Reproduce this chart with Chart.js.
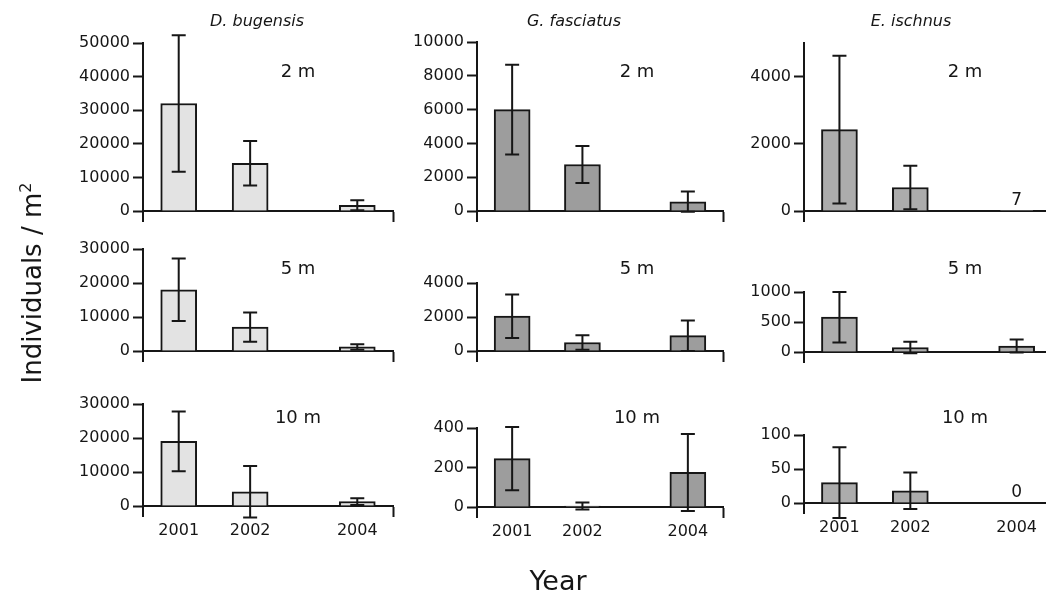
<!DOCTYPE html>
<html>
<head>
<meta charset="utf-8">
<script src="https://cdn.jsdelivr.net/npm/chart.js@4.4.1/dist/chart.umd.min.js"></script>
<style>
  html, body { margin: 0; padding: 0; background: #fff; overflow: hidden; }
  #wrap { position: relative; width: 1050px; height: 598px; }
  #wrap canvas { position: absolute; left: 0; top: 0; }
  .lbl { position: absolute; font-family: 'DejaVu Sans', sans-serif; color: #161616; text-align: center; white-space: nowrap; }
  #ytitle { left: -118px; top: 268px; width: 300px; height: 30px; line-height: 30px; font-size: 26px; transform: rotate(-90deg); }
  #ytitle sup { font-size: 16px; line-height: 0; vertical-align: 10px; }
  #xtitle { left: 458px; top: 565px; width: 200px; height: 32px; line-height: 32px; font-size: 27px; }
</style>
</head>
<body>
<div id="wrap">
  <canvas id="c0" width="1050" height="598"></canvas>
  <canvas id="c1" width="1050" height="598"></canvas>
  <canvas id="c2" width="1050" height="598"></canvas>
  <canvas id="c3" width="1050" height="598"></canvas>
  <canvas id="c4" width="1050" height="598"></canvas>
  <canvas id="c5" width="1050" height="598"></canvas>
  <canvas id="c6" width="1050" height="598"></canvas>
  <canvas id="c7" width="1050" height="598"></canvas>
  <canvas id="c8" width="1050" height="598"></canvas>
  <div class="lbl" id="ytitle">Individuals / m<sup>2</sup></div>
  <div class="lbl" id="xtitle">Year</div>
</div>
<script>
// sampling years (2003 not sampled, drawn as a half gap)
const yearLabels = ['2001', '2002', '2004'];
const yearSlots = [1, 2, 3.5];
const species = ['D. bugensis', 'G. fasciatus', 'E. ischnus'];
const depths = ['2 m', '5 m', '10 m'];

// mean density and error, individuals / m2
const bugensis2m = [32000, 14200, 1700];
const bugensis2mErr = [20300, 6600, 1500];
const bugensis5m = [18000, 7000, 1200];
const bugensis5mErr = [9200, 4300, 800];
const bugensis10m = [19000, 4200, 1300];
const bugensis10mErr = [8800, 7600, 1000];

const fasciatus2m = [6000, 2750, 550];
const fasciatus2mErr = [2650, 1100, 600];
const fasciatus5m = [2050, 500, 900];
const fasciatus5mErr = [1280, 430, 900];
const fasciatus10m = [245, 5, 175];
const fasciatus10mErr = [160, 18, 195];

const ischnus2m = [2420, 700, 7];
const ischnus2mErr = [2200, 650, 0];
const ischnus5m = [580, 75, 100];
const ischnus5mErr = [420, 95, 110];
const ischnus10m = [30, 18, 0];
const ischnus10mErr = [52, 27, 0];

// y axis tick labels per panel
const ticksBug2 = [0, 10000, 20000, 30000, 40000, 50000];
const ticksBug5 = [0, 10000, 20000, 30000];
const ticksBug10 = [0, 10000, 20000, 30000];
const ticksFas2 = [0, 2000, 4000, 6000, 8000, 10000];
const ticksFas5 = [0, 2000, 4000];
const ticksFas10 = [0, 200, 400];
const ticksIsc2 = [0, 2000, 4000];
const ticksIsc5 = [0, 500, 1000];
const ticksIsc10 = [0, 50, 100];

const panels = [
  { values: bugensis2m, errors: bugensis2mErr, yMax: 50000, ticks: ticksBug2 },
  { values: fasciatus2m, errors: fasciatus2mErr, yMax: 10000, ticks: ticksFas2 },
  { values: ischnus2m, errors: ischnus2mErr, yMax: 5000, ticks: ticksIsc2 },
  { values: bugensis5m, errors: bugensis5mErr, yMax: 30000, ticks: ticksBug5 },
  { values: fasciatus5m, errors: fasciatus5mErr, yMax: 4000, ticks: ticksFas5 },
  { values: ischnus5m, errors: ischnus5mErr, yMax: 1000, ticks: ticksIsc5 },
  { values: bugensis10m, errors: bugensis10mErr, yMax: 30000, ticks: ticksBug10 },
  { values: fasciatus10m, errors: fasciatus10mErr, yMax: 400, ticks: ticksFas10 },
  { values: ischnus10m, errors: ischnus10mErr, yMax: 100, ticks: ticksIsc10 }
];

// page layout (pixels)
const colLeft = [143, 477, 804];
const colRight = [393, 723, 1050];
const colXMax = [4.0, 4.0, 3.9];
const frames = [[43, 211], [42, 211], [43, 211], [249, 351], [283, 351], [292, 352], [404, 506], [428, 507], [435, 503]];
const fills = ['#e3e3e3', '#9d9d9d', '#acacac'];
const titleX = [257, 574, 911];
const depthX = [298, 637, 965];
const depthBase = [77, 274, 423];
const AXIS_W = 80;
const INK = '#161616';
const FONT = 'DejaVu Sans';

const errorBarPlugin = {
  id: 'errorBars',
  afterDatasetsDraw(chart, args, opts) {
    const ctx = chart.ctx;
    const yScale = chart.scales.y;
    const meta = chart.getDatasetMeta(0);
    const pts = chart.data.datasets[0].data;
    ctx.save();
    ctx.strokeStyle = INK;
    ctx.lineWidth = 2;
    meta.data.forEach((bar, i) => {
      const e = opts.errors[i];
      if (!e) return;
      const v = pts[i].y;
      const hi = yScale.getPixelForValue(v + e);
      const lo = yScale.getPixelForValue(v - e);
      ctx.beginPath();
      ctx.moveTo(bar.x, lo); ctx.lineTo(bar.x, hi);
      ctx.moveTo(bar.x - 7, hi); ctx.lineTo(bar.x + 7, hi);
      ctx.moveTo(bar.x - 7, lo); ctx.lineTo(bar.x + 7, lo);
      ctx.stroke();
    });
    ctx.restore();
  }
};

const panelTextPlugin = {
  id: 'panelText',
  afterDraw(chart, args, opts) {
    const ctx = chart.ctx;
    ctx.save();
    ctx.fillStyle = INK;
    ctx.textAlign = 'center';
    ctx.textBaseline = 'alphabetic';
    if (opts.title) {
      ctx.font = 'italic 16px "' + FONT + '"';
      ctx.fillText(opts.title, opts.titleX, 26);
    }
    ctx.font = '18px "' + FONT + '"';
    ctx.fillText(opts.depth, opts.depthX, opts.depthY);
    // bars too small to see get their value written above the axis
    const meta = chart.getDatasetMeta(0);
    const pts = chart.data.datasets[0].data;
    const y0 = chart.scales.y.getPixelForValue(0);
    ctx.font = '17px "' + FONT + '"';
    meta.data.forEach((bar, i) => {
      if (pts[i].y < opts.yMax * 0.005) ctx.fillText(String(pts[i].y), bar.x, y0 - 6);
    });
    ctx.restore();
  }
};

panels.forEach((p, i) => {
  const col = i % 3;
  const row = Math.floor(i / 3);
  const top = frames[i][0];
  const zero = frames[i][1];
  const yMin = -p.yMax * 10 / (zero - top);
  const xMax = colXMax[col];

  new Chart(document.getElementById('c' + i), {
    type: 'bar',
    data: {
      datasets: [{
        data: p.values.map((v, k) => ({ x: yearSlots[k], y: v })),
        backgroundColor: fills[col],
        borderColor: INK,
        borderWidth: 2,
        barThickness: 36
      }]
    },
    options: {
      responsive: false,
      animation: false,
      events: [],
      layout: {
        padding: { left: colLeft[col] - AXIS_W, right: 1050 - colRight[col], top: top, bottom: 598 - zero - 10 }
      },
      plugins: {
        legend: { display: false },
        tooltip: { enabled: false },
        errorBars: { errors: p.errors },
        panelText: {
          title: row === 0 ? species[col] : null,
          titleX: titleX[col],
          depth: depths[row],
          depthX: depthX[col],
          depthY: depthBase[row],
          yMax: p.yMax
        }
      },
      scales: {
        x: {
          type: 'linear',
          position: { y: 0 },
          offset: false,
          min: 0.5,
          max: xMax,
          z: 1,
          afterBuildTicks: s => { s.ticks = yearSlots.concat([xMax]).map(v => ({ value: v })); },
          ticks: {
            autoSkip: false,
            maxRotation: 0,
            padding: 5,
            color: INK,
            font: { family: FONT, size: 16 },
            callback: (v, idx) => (row === 2 && idx < 3) ? yearLabels[idx] : ''
          },
          grid: {
            offset: false,
            drawOnChartArea: false,
            drawTicks: true,
            tickLength: 10,
            tickWidth: 2,
            tickColor: c => (c.tick && c.tick.value === xMax && col < 2) ? INK : 'rgba(0,0,0,0)'
          },
          border: { display: true, color: INK, width: 2 }
        },
        y: {
          type: 'linear',
          min: yMin,
          max: p.yMax,
          afterFit: s => { s.width = AXIS_W; },
          afterBuildTicks: s => { s.ticks = p.ticks.map(v => ({ value: v })); },
          ticks: {
            padding: 3,
            color: INK,
            font: { family: FONT, size: 16 },
            callback: v => String(v)
          },
          grid: {
            drawOnChartArea: false,
            drawTicks: true,
            tickLength: 10,
            tickWidth: 2,
            tickColor: INK
          },
          border: { display: true, color: INK, width: 2 }
        }
      }
    },
    plugins: [errorBarPlugin, panelTextPlugin]
  });
});
</script>
</body>
</html>
